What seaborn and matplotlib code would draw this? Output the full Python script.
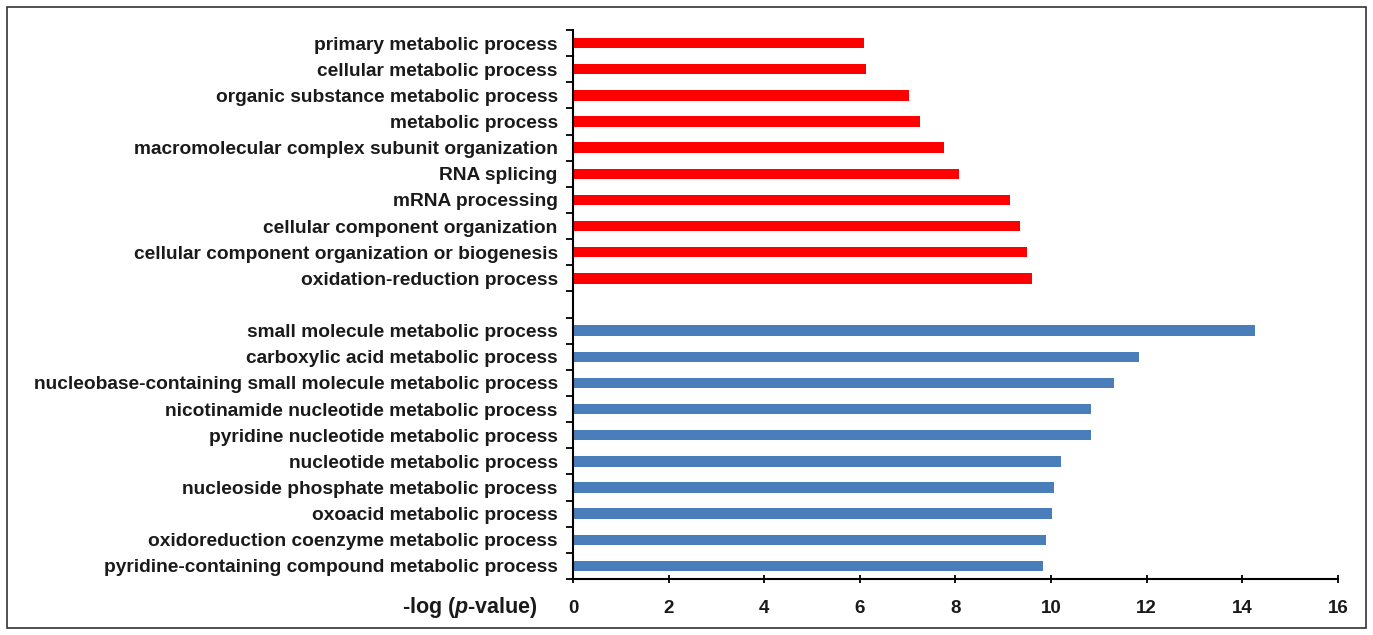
import numpy as np
import pandas as pd
import matplotlib
matplotlib.use("Agg")
import matplotlib.pyplot as plt
import seaborn as sns
from matplotlib.patches import Rectangle
from matplotlib.ticker import FixedLocator

# ---- data ----
up_terms = [
    "primary metabolic process",
    "cellular metabolic process",
    "organic substance metabolic process",
    "metabolic process",
    "macromolecular complex subunit organization",
    "RNA splicing",
    "mRNA processing",
    "cellular component organization",
    "cellular component organization or biogenesis",
    "oxidation-reduction process",
]
up_values = [6.09, 6.13, 7.02, 7.25, 7.75, 8.07, 9.13, 9.34, 9.49, 9.60]

down_terms = [
    "small molecule metabolic process",
    "carboxylic acid metabolic process",
    "nucleobase-containing small molecule metabolic process",
    "nicotinamide nucleotide metabolic process",
    "pyridine nucleotide metabolic process",
    "nucleotide metabolic process",
    "nucleoside phosphate metabolic process",
    "oxoacid metabolic process",
    "oxidoreduction coenzyme metabolic process",
    "pyridine-containing compound metabolic process",
]
down_values = [14.26, 11.83, 11.31, 10.84, 10.84, 10.21, 10.06, 10.01, 9.89, 9.83]

x_ticks = [0, 2, 4, 6, 8, 10, 12, 14, 16]
spacer = " "

df = pd.DataFrame({
    "term": up_terms + down_terms,
    "value": up_values + down_values,
    "group": ["up"] * len(up_terms) + ["down"] * len(down_terms),
})
order = up_terms + [spacer] + down_terms

# ---- style ----
sns.set_style("white")
plt.rcParams["font.family"] = ["Liberation Sans", "DejaVu Sans"]
plt.rcParams["mathtext.fontset"] = "custom"
plt.rcParams["mathtext.it"] = "Liberation Sans:italic:bold"
plt.rcParams["mathtext.rm"] = "Liberation Sans:bold"

fig = plt.figure(figsize=(13.73, 6.35), dpi=100)
ax = fig.add_axes([0.4173, 0.0882, 0.9745 - 0.4173, 0.9528 - 0.0882])

sns.barplot(
    data=df, x="value", y="term", hue="group", order=order,
    palette={"up": "#FF0000", "down": "#4A7EBB"},
    dodge=False, width=0.4, orient="h", legend=False, ax=ax,
    saturation=1, linewidth=0,
)

ax.set_xlim(0, 16)
ax.set_ylim(len(order) - 0.5, -0.5)
ax.set_xticks(x_ticks)
ax.set_xticklabels([str(t) for t in x_ticks], fontsize=13.5, fontweight="bold", color="#1a1a1a")
ax.set_yticks(range(len(order)))
ax.set_yticklabels(order, fontsize=13.8, fontweight="bold", color="#1a1a1a")
ax.tick_params(axis="y", which="major", length=0, pad=11)
ax.yaxis.set_minor_locator(FixedLocator(np.arange(-0.5, len(order), 1.0)))
ax.tick_params(axis="y", which="minor", length=5, width=1.3, direction="out", color="black", left=True)
ax.tick_params(axis="x", which="major", length=6, width=1.3, direction="inout", color="black", pad=12, bottom=True)

for s in ["top", "right"]:
    ax.spines[s].set_visible(False)
for s in ["left", "bottom"]:
    ax.spines[s].set_color("black")
    ax.spines[s].set_linewidth(1.5)

ax.set_ylabel("")
ax.set_xlabel(r"-log ($\mathit{p}$-value)", fontsize=15.5, fontweight="bold", color="#1a1a1a")
ax.xaxis.set_label_coords(-0.135, -0.052)
ax.xaxis.label.set_va("center")

fig.patches.append(Rectangle((7 / 1373, 7 / 635), (1366 - 7) / 1373, (628 - 7) / 635,
                             transform=fig.transFigure, fill=False,
                             edgecolor="#333333", linewidth=1.2))

fig.savefig("out.png", dpi=100)
